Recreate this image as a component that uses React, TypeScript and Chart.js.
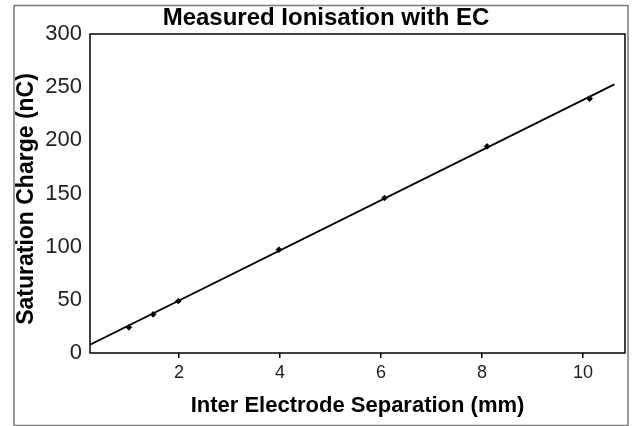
import React, { useEffect, useRef } from "react";
import { Chart, registerables } from "chart.js";

Chart.register(...registerables);

const chartTitle = "Measured Ionisation with EC";
const xAxisTitle = "Inter Electrode Separation (mm)";
const yAxisTitle = "Saturation Charge (nC)";

// measured points
const separationMm = [1.01, 1.49, 1.99, 3.98, 6.07, 8.1, 10.13];
const chargeNc = [24.1, 36.3, 48.9, 97.2, 145.8, 194.3, 239.2];

// linear fit line end points
const fitX = [0.24, 10.62];
const fitY = [7.8, 252.6];

const xTicks = [2, 4, 6, 8, 10];
const yTicks = [0, 50, 100, 150, 200, 250, 300];
const xRange = [0.24, 10.83];
const yRange = [0, 300];

const FONT = '"Liberation Sans", Arial, sans-serif';

const decor = {
  id: "decor",
  beforeDraw(chart: any) {
    const { ctx, width, height } = chart;
    ctx.save();
    ctx.fillStyle = "#ffffff";
    ctx.fillRect(0, 0, width, height);
    ctx.restore();
  },
  afterDraw(chart: any) {
    const { ctx, chartArea: a } = chart;
    ctx.save();
    // outer frame
    ctx.strokeStyle = "#7a7a7a";
    ctx.lineWidth = 1.5;
    ctx.strokeRect(14, 5.5, 614, 420);
    // plot box
    ctx.strokeStyle = "#000000";
    ctx.lineWidth = 1.5;
    ctx.strokeRect(a.left, a.top, a.right - a.left, a.bottom - a.top);
    // titles
    ctx.fillStyle = "#000000";
    ctx.textAlign = "center";
    ctx.textBaseline = "alphabetic";
    ctx.font = `bold 24px ${FONT}`;
    ctx.fillText(chartTitle, 326, 24.5);
    ctx.font = `bold 22px ${FONT}`;
    ctx.fillText(xAxisTitle, (a.left + a.right) / 2, 411.5);
    ctx.translate(33, 199);
    ctx.rotate(-Math.PI / 2);
    ctx.font = `bold 23px ${FONT}`;
    ctx.fillText(yAxisTitle, 0, 0);
    ctx.restore();
  },
};

export default function App() {
  const ref = useRef<HTMLCanvasElement | null>(null);

  useEffect(() => {
    if (!ref.current) return;
    const chart = new Chart(ref.current, {
      type: "scatter",
      data: {
        datasets: [
          {
            label: "Measured",
            data: separationMm.map((x, i) => ({ x, y: chargeNc[i] })),
            showLine: false,
            pointStyle: "rectRot",
            pointRadius: 2.8,
            backgroundColor: "#000000",
            borderColor: "#000000",
            borderWidth: 1,
            order: 0,
          },
          {
            label: "Fit",
            data: fitX.map((x, i) => ({ x, y: fitY[i] })),
            showLine: true,
            pointRadius: 0,
            borderColor: "#000000",
            borderWidth: 1.8,
            order: 1,
          },
        ],
      },
      options: {
        responsive: false,
        animation: false,
        devicePixelRatio: 1,
        layout: { padding: { top: 34, right: 8, bottom: 0, left: 0 } },
        plugins: {
          legend: { display: false },
          title: { display: false },
          tooltip: { enabled: false },
        },
        scales: {
          x: {
            type: "linear",
            min: xRange[0],
            max: xRange[1],
            afterFit: (s: any) => {
              s.height = 73;
            },
            afterBuildTicks: (s: any) => {
              s.ticks = xTicks.map((v) => ({ value: v }));
            },
            grid: {
              display: true,
              drawOnChartArea: false,
              drawTicks: true,
              tickLength: 5,
              color: "#000000",
              lineWidth: 1.5,
            },
            border: { display: false },
            ticks: {
              font: { family: FONT, size: 18 },
              color: "#222222",
              padding: 4,
              maxRotation: 0,
            },
          },
          y: {
            type: "linear",
            min: yRange[0],
            max: yRange[1],
            afterFit: (s: any) => {
              s.width = 90;
            },
            afterBuildTicks: (s: any) => {
              s.ticks = yTicks.map((v) => ({ value: v }));
            },
            grid: { display: false, drawTicks: false },
            border: { display: false },
            ticks: {
              font: { family: FONT, size: 22 },
              color: "#222222",
              padding: 8,
            },
          },
        },
      },
      plugins: [decor],
    });
    return () => chart.destroy();
  }, []);

  return (
    <div style={{ position: "absolute", left: 0, top: 0, width: 633, height: 426 }}>
      <canvas ref={ref} width={633} height={426} style={{ display: "block" }} />
    </div>
  );
}
